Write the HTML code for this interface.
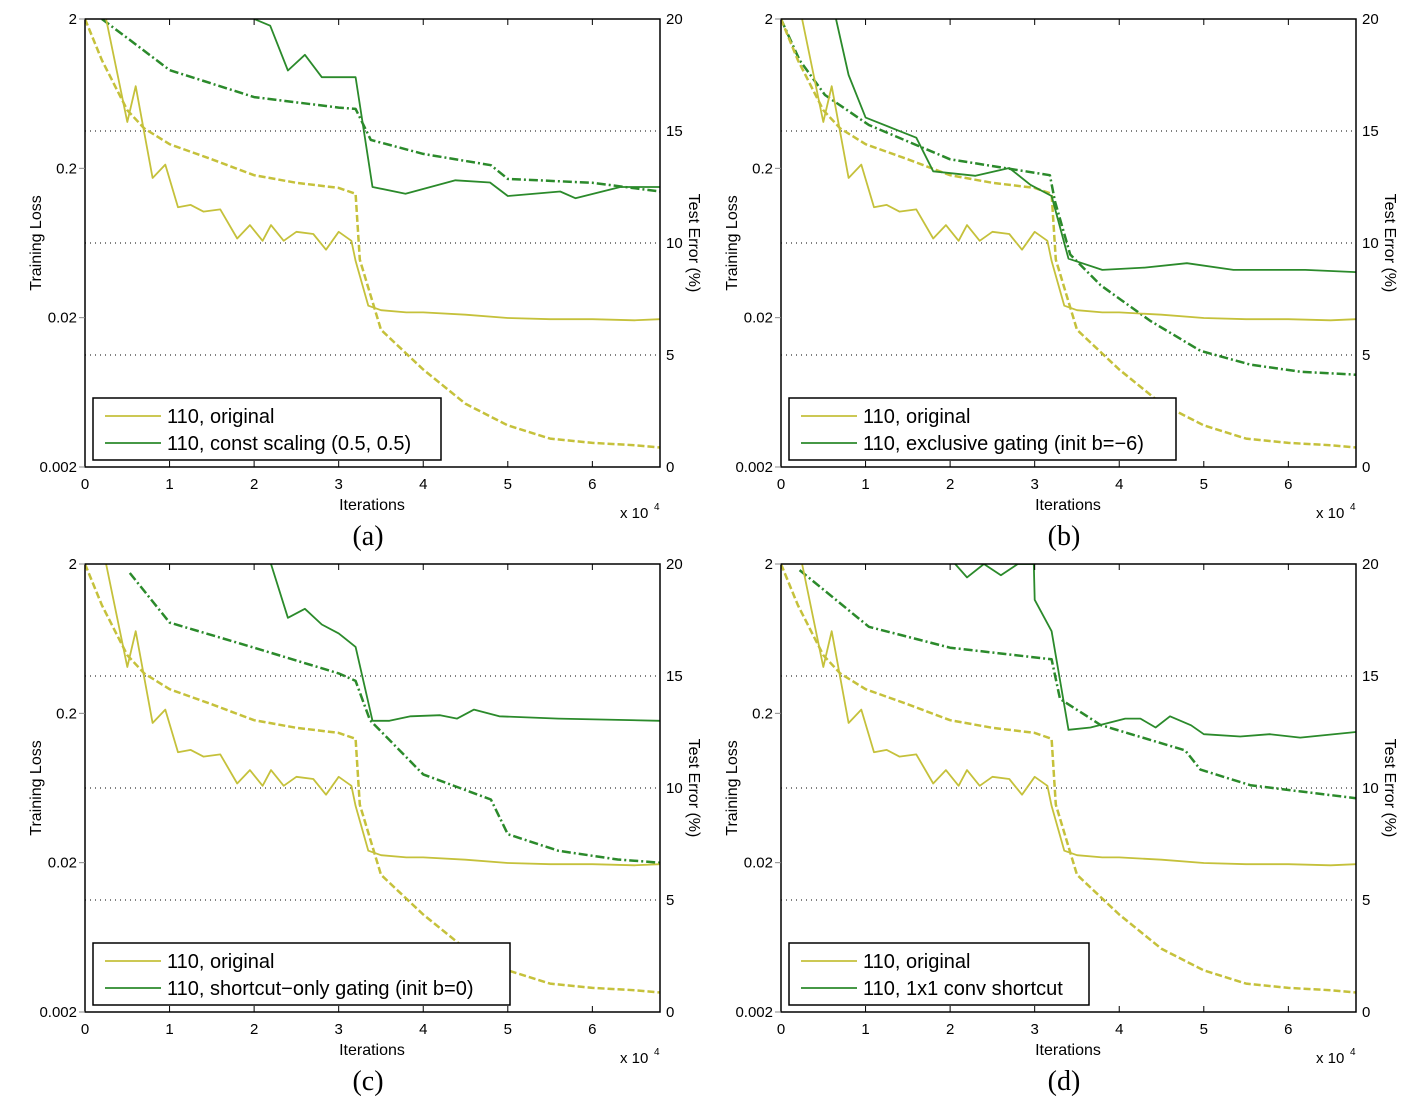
<!DOCTYPE html>
<html><head><meta charset="utf-8"><style>
body{margin:0;background:#fff}
svg{display:block}
text{font-family:"Liberation Sans",sans-serif;fill:#000}
</style></head><body>
<svg id="chart" width="1407" height="1109" viewBox="0 0 1407 1109" xmlns="http://www.w3.org/2000/svg"></svg>
<script>
const origErrX=[0.25,0.5,0.6,0.8,0.95,1.1,1.25,1.4,1.6,1.8,1.95,2.1,2.2,2.35,2.5,2.7,2.85,3.0,3.15,3.2,3.35,3.5,3.8,4.0,4.5,5.0,5.5,6.0,6.5,6.8];
const origErrY=[20,15.4,17.0,12.9,13.5,11.6,11.7,11.4,11.5,10.2,10.8,10.1,10.8,10.1,10.5,10.4,9.7,10.5,10.1,9.2,7.2,7.0,6.9,6.9,6.8,6.65,6.6,6.6,6.55,6.6];
const origLossX=[0,0.2,0.5,0.7,1.0,1.5,2.0,2.5,3.0,3.2,3.25,3.5,4.0,4.5,5.0,5.5,6.0,6.5,6.8];
const origLossY=[2,1.06,0.49,0.37,0.29,0.23,0.18,0.16,0.148,0.135,0.049,0.0166,0.009,0.0053,0.0038,0.0031,0.0029,0.0028,0.0027];

const aErrX=[2.0,2.19,2.4,2.6,2.8,3.2,3.4,3.79,4.38,4.79,5.0,5.62,5.8,6.33,6.8];
const aErrY=[20,19.7,17.7,18.4,17.4,17.4,12.5,12.2,12.8,12.7,12.1,12.3,12.0,12.5,12.5];
const aLossX=[0.2,0.53,1.0,2.0,3.0,3.2,3.38,4.0,4.8,5.0,6.0,6.8];
const aLossY=[2,1.45,0.91,0.6,0.51,0.5,0.31,0.25,0.21,0.17,0.16,0.14];

const bErrX=[0.65,0.8,1.0,1.6,1.8,2.3,2.7,2.95,3.2,3.4,3.8,4.3,4.8,5.35,6.2,6.8];
const bErrY=[20,17.5,15.6,14.7,13.2,13.0,13.35,12.6,12.1,9.3,8.8,8.9,9.1,8.8,8.8,8.7];
const bLossX=[0,0.22,0.52,1.04,2.0,3.18,3.24,3.42,3.78,4.37,4.96,5.55,6.14,6.8];
const bLossY=[2,1.06,0.62,0.39,0.23,0.18,0.12,0.053,0.033,0.019,0.012,0.0097,0.0087,0.0083];

const cErrX=[2.2,2.4,2.6,2.8,3.0,3.2,3.4,3.6,3.85,4.2,4.4,4.6,4.9,5.6,6.8];
const cErrY=[20,17.6,18.0,17.3,16.9,16.3,13.0,13.0,13.2,13.25,13.1,13.5,13.2,13.1,13.0];
const cLossX=[0.53,1.0,2.0,3.0,3.2,3.37,4.0,4.8,5.0,5.6,6.3,6.8];
const cLossY=[1.74,0.81,0.55,0.37,0.33,0.18,0.078,0.053,0.031,0.024,0.021,0.02];

const dErrX=[1.9,2.06,2.2,2.4,2.6,2.8,2.99,3.0,3.2,3.4,3.66,4.07,4.25,4.43,4.6,4.85,5.0,5.43,5.78,6.14,6.8];
const dErrY=[21,20,19.4,20,19.5,20,20,18.4,17.0,12.6,12.7,13.1,13.1,12.7,13.2,12.8,12.4,12.3,12.4,12.25,12.5];
const dLossX=[0.22,1.04,2.0,3.2,3.3,3.78,4.78,4.96,5.55,6.14,6.8];
const dLossY=[1.82,0.76,0.55,0.46,0.25,0.167,0.113,0.084,0.066,0.06,0.054];

const panels=[
 {id:'a',ox:85,oy:19,label:'110, const scaling (0.5, 0.5)',lw:348,ex:aErrX,ey:aErrY,lx:aLossX,ly:aLossY},
 {id:'b',ox:781,oy:19,label:'110, exclusive gating (init b=\u22126)',lw:387,ex:bErrX,ey:bErrY,lx:bLossX,ly:bLossY},
 {id:'c',ox:85,oy:564,label:'110, shortcut\u2212only gating (init b=0)',lw:417,ex:cErrX,ey:cErrY,lx:cLossX,ly:cLossY},
 {id:'d',ox:781,oy:564,label:'110, 1x1 conv shortcut',lw:300,ex:dErrX,ey:dErrY,lx:dLossX,ly:dLossY}
];
const W=575,H=448,XMAX=6.8,YEL='#c5c13b',GRN='#2b8a2b';
const svg=document.getElementById('chart');
const NS='http://www.w3.org/2000/svg';
function mk(tag,attrs,parent,txt){const e=document.createElementNS(NS,tag);for(const k in attrs)e.setAttribute(k,attrs[k]);if(txt!==undefined)e.textContent=txt;parent.appendChild(e);return e;}
let defs=mk('defs',{},svg);
panels.forEach(p=>{
 const g=mk('g',{},svg);
 
 
 const sx=v=>p.ox+v/XMAX*W;
 const sl=v=>p.oy+(Math.log10(2)-Math.log10(v))/3*H;
 const se=v=>p.oy+H-v/20*H;
 const cp=mk('clipPath',{id:'clip'+p.id},defs);
 mk('rect',{x:p.ox,y:p.oy,width:W,height:H},cp);
 // grid
 [5,10,15].forEach(v=>{const l=mk('line',{x1:p.ox,x2:p.ox+W,y1:se(v),y2:se(v),stroke:'#000','stroke-width':1,'stroke-dasharray':'1,4'},g);
  
  });
 const dg=mk('g',{'clip-path':'url(#clip'+p.id+')'},g);
 function path(xs,ys,sc,col,dash,w,name){
  let d='';xs.forEach((x,i)=>{d+=(i?'L':'M')+sx(x).toFixed(1)+','+sc(ys[i]).toFixed(1);});
  const e=mk('path',{d:d,fill:'none',stroke:col,'stroke-width':w,'stroke-dasharray':dash,'stroke-linejoin':'round'},dg);
  
  
 }
 path(p.lx,p.ly,sl,GRN,'9,3,2,3',2.5,'variant-training-loss');
 path(origLossX,origLossY,sl,YEL,'7,3',2.5,'original-training-loss');
 path(p.ex,p.ey,se,GRN,'none',1.8,'variant-test-error');
 path(origErrX,origErrY,se,YEL,'none',1.8,'original-test-error');
 // frame
 const fr=mk('rect',{x:p.ox,y:p.oy,width:W,height:H,fill:'none',stroke:'#000','stroke-width':1.5},g);
 
 
 // x ticks
 for(let i=0;i<=6;i++){const x=sx(i);
  mk('line',{x1:x,x2:x,y1:p.oy+H,y2:p.oy+H-6,stroke:'#000'},g);
  mk('line',{x1:x,x2:x,y1:p.oy,y2:p.oy+6,stroke:'#000'},g);
  const t=mk('text',{x:x,y:p.oy+H+22,'font-size':15,'text-anchor':'middle'},g,String(i));
  
  }
 // left ticks
 [2,0.2,0.02,0.002].forEach(v=>{const y=sl(v);
  mk('line',{x1:p.ox-6,x2:p.ox,y1:y,y2:y,stroke:'#888'},g);
  const t=mk('text',{x:p.ox-8,y:y+5,'font-size':15,'text-anchor':'end'},g,String(v));
  
  });
 [0,5,10,15,20].forEach(v=>{const y=se(v);
  const t=mk('text',{x:p.ox+W+6,y:y+5,'font-size':15},g,String(v));
  
  });
 let t;
 t=mk('text',{x:0,y:0,'font-size':16,'text-anchor':'middle',transform:`translate(${p.ox-44},${p.oy+224}) rotate(-90)`},g,'Training Loss');
 
 
 t=mk('text',{x:0,y:0,'font-size':16,'text-anchor':'middle',transform:`translate(${p.ox+W+29},${p.oy+224}) rotate(90)`},g,'Test Error (%)');
 
 
 t=mk('text',{x:p.ox+287,y:p.oy+H+43,'font-size':16,'text-anchor':'middle'},g,'Iterations');
 
 
 t=mk('text',{x:p.ox+535,y:p.oy+H+51,'font-size':15},g,'x 10');
 
 
 mk('text',{x:p.ox+569,y:p.oy+H+43,'font-size':10},g,'4');
 t=mk('text',{x:p.ox+283,y:p.oy+H+78,'font-size':28,'text-anchor':'middle','font-family':'Liberation Serif, serif',style:'font-family:"Liberation Serif",serif'},g,'('+p.id+')');
 
 
 // legend
 const lg=mk('g',{},g);
 
 
 mk('rect',{x:p.ox+8,y:p.oy+379,width:p.lw,height:62,fill:'#fff',stroke:'#000','stroke-width':1.5},lg);
 mk('line',{x1:p.ox+20,x2:p.ox+76,y1:p.oy+397,y2:p.oy+397,stroke:YEL,'stroke-width':1.8},lg);
 mk('line',{x1:p.ox+20,x2:p.ox+76,y1:p.oy+424,y2:p.oy+424,stroke:GRN,'stroke-width':1.8},lg);
 t=mk('text',{x:p.ox+82,y:p.oy+404,'font-size':20},lg,'110, original');
 
 
 t=mk('text',{x:p.ox+82,y:p.oy+431,'font-size':20},lg,p.label);
 
 
});
</script>
</body></html>
